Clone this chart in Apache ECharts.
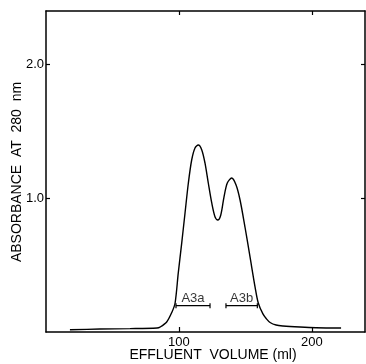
<!DOCTYPE html>
<html>
<head>
<meta charset="utf-8">
<script src="https://cdn.jsdelivr.net/npm/echarts@6/dist/echarts.min.js"></script>
<style>
html,body{margin:0;padding:0;background:#fff;}
#chart{width:366px;height:364px;}
</style>
</head>
<body>
<div id="chart"></div>
<script>
// Effluent volume (ml) and absorbance at 280 nm
const volume = [18, 40.6, 63.2, 83.5, 85.8, 90.8, 94.8, 97.1, 99.5, 102.1, 104.6, 107.1, 109.6, 112.1, 114.6, 117.2, 119.6, 122.1, 124.7, 127.2, 129.2, 131.5, 133.9, 136.4, 139.7, 143.0, 146.0, 149.7, 153.5, 157.3, 159.7, 163.2, 165.8, 168.6, 173.1, 178.3, 191.1, 203.2, 222];
const absorbance = [0.017, 0.022, 0.025, 0.03, 0.037, 0.075, 0.15, 0.215, 0.44, 0.665, 0.89, 1.114, 1.286, 1.376, 1.398, 1.361, 1.264, 1.114, 0.965, 0.86, 0.837, 0.875, 1.009, 1.114, 1.151, 1.099, 0.987, 0.785, 0.561, 0.336, 0.217, 0.135, 0.099, 0.071, 0.052, 0.045, 0.037, 0.032, 0.03];

// Fraction brackets
const fractionNames = ['A3a', 'A3b'];
const fractionStart = [97.8, 135.4];
const fractionEnd = [123.4, 159.0];
const fractionLevel = [0.197, 0.197];

// Axis ticks
const xTicks = [100, 200];
const yTicks = [1.0, 2.0];

const FONT = 'Liberation Sans';
const chart = echarts.init(document.getElementById('chart'));

const lineStyleAxis = { color: '#000', width: 1.5 };

const bracketSeries = fractionNames.map((n, i) => ({
  type: 'line',
  data: [[fractionStart[i], fractionLevel[i]], [fractionEnd[i], fractionLevel[i]]],
  symbol: 'rect',
  symbolSize: [1.2, 5],
  itemStyle: { color: '#000' },
  lineStyle: { color: '#000', width: 1.2 },
  silent: true,
  animation: false
}));

const labelSeries = {
  type: 'scatter',
  symbolSize: 0,
  data: fractionNames.map((n, i) => ({
    value: [(fractionStart[i] + fractionEnd[i]) / 2, fractionLevel[i]],
    name: n
  })),
  label: {
    show: true,
    position: 'top',
    distance: 1,
    formatter: p => p.name,
    fontFamily: FONT,
    fontSize: 13,
    color: '#000'
  },
  animation: false
};

chart.setOption({
  animation: false,
  backgroundColor: '#fff',
  grid: { left: 46, top: 11, right: 1, bottom: 32 },
  xAxis: [{
    type: 'value', min: 0, max: 240, position: 'bottom',
    axisLine: { show: true, onZero: false, lineStyle: lineStyleAxis },
    axisTick: { show: true, inside: true, length: 5, customValues: xTicks, lineStyle: { color: '#000', width: 1.2 } },
    axisLabel: { show: true, customValues: xTicks, margin: 4, fontFamily: FONT, fontSize: 13, color: '#000' },
    splitLine: { show: false }
  }, {
    type: 'value', min: 0, max: 240, position: 'top',
    axisLine: { show: true, onZero: false, lineStyle: lineStyleAxis },
    axisTick: { show: true, inside: true, length: 4, customValues: xTicks, lineStyle: { color: '#000', width: 1.2 } },
    axisLabel: { show: false },
    splitLine: { show: false }
  }],
  yAxis: [{
    type: 'value', min: 0, max: 2.4, position: 'left',
    axisLine: { show: true, onZero: false, lineStyle: lineStyleAxis },
    axisTick: { show: true, inside: true, length: 4, customValues: yTicks, lineStyle: { color: '#000', width: 1.2 } },
    axisLabel: { show: true, customValues: yTicks, margin: 2, formatter: v => v.toFixed(1), fontFamily: FONT, fontSize: 13, color: '#000' },
    splitLine: { show: false }
  }, {
    type: 'value', min: 0, max: 2.4, position: 'right',
    axisLine: { show: true, onZero: false, lineStyle: lineStyleAxis },
    axisTick: { show: true, inside: true, length: 4, customValues: yTicks, lineStyle: { color: '#000', width: 1.2 } },
    axisLabel: { show: false },
    splitLine: { show: false }
  }],
  graphic: [{
    type: 'text',
    x: 213, y: 355,
    style: { text: 'EFFLUENT  VOLUME (ml)', fontFamily: FONT, fontSize: 14, fill: '#000', align: 'center', verticalAlign: 'middle' }
  }, {
    type: 'text',
    x: 17, y: 172,
    rotation: Math.PI / 2,
    style: { text: 'ABSORBANCE  AT  280  nm', fontFamily: FONT, fontSize: 14, fill: '#000', align: 'center', verticalAlign: 'middle' }
  }],
  series: [{
    type: 'line',
    data: volume.map((v, i) => [v, absorbance[i]]),
    smooth: 0.3,
    showSymbol: false,
    lineStyle: { color: '#000', width: 1.4 },
    animation: false
  }, ...bracketSeries, labelSeries]
});
</script>
</body>
</html>
